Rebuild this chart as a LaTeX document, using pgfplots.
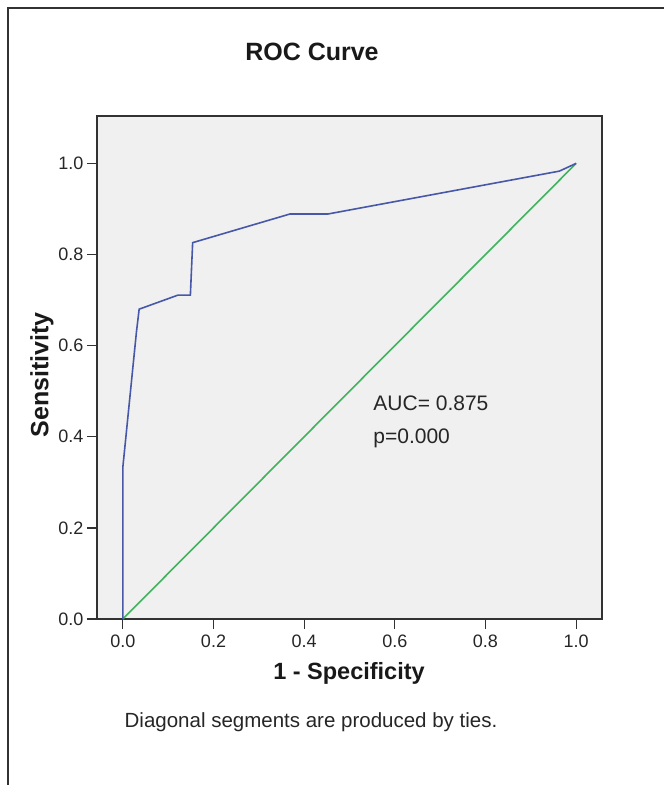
\documentclass[border=0pt]{standalone}
\usepackage{pgfplots}
\pgfplotsset{compat=1.18}
\usepackage{fontspec}
\setmainfont{Liberation Sans}
\definecolor{rocblue}{RGB}{72,88,168}
\definecolor{rocgreen}{RGB}{64,178,96}
\definecolor{plotbg}{RGB}{240,240,240}
\definecolor{framec}{RGB}{50,50,50}
\begin{document}
\begin{tikzpicture}[x=1pt,y=1pt]
\useasboundingbox (0,0) rectangle (664,785);
\draw[framec, line width=2pt] (8,-2) -- (8,777) -- (666,777);
\begin{axis}[
  at={(97pt,166pt)}, anchor=south west,
  scale only axis, width=505pt, height=503pt,
  xmin=-0.057, xmax=1.057, ymin=0, ymax=1.104,
  axis background/.style={fill=plotbg},
  axis line style={framec, line width=1.3pt},
  tick style={framec, line width=1.3pt},
  tick align=outside, major tick length=10pt,
  xtick={0,0.2,...,1.0}, ytick={0,0.2,...,1.0},
  tick label style={/pgf/number format/fixed, /pgf/number format/fixed zerofill, /pgf/number format/precision=1, font=\fontsize{18}{21}\selectfont, text=black!85},
  xticklabel style={yshift=-2pt},
  /pgf/number format/assume math mode=true,
  xtick pos=bottom, ytick pos=left,
  clip=false,
]
\addplot[rocgreen, line width=1.6pt] coordinates {(0,0) (1,1)};
\addplot[rocblue, line width=1.6pt] coordinates {
(0,0) (0,0.333) (0.030,0.63) (0.036,0.680) (0.122,0.711) (0.149,0.711)
(0.154,0.826) (0.369,0.889) (0.453,0.889) (0.963,0.983) (1,1)};
\node[anchor=west, font=\fontsize{21}{33}\selectfont, text=black!85, align=left] at (axis cs:0.545,0.432) {AUC= 0.875\\p=0.000};
\end{axis}
\node[font=\bfseries\fontsize{25}{30}\selectfont, text=black!90] at (312,733) {ROC Curve};
\node[font=\bfseries\fontsize{23.5}{28}\selectfont, text=black!90] at (349,112) {1 - Specificity};
\node[font=\bfseries\fontsize{25}{30}\selectfont, text=black!90, rotate=90] at (42,410) {Sensitivity};
\node[font=\fontsize{20.5}{24}\selectfont, text=black!85] at (311,63) {Diagonal segments are produced by ties.};
\end{tikzpicture}
\end{document}
